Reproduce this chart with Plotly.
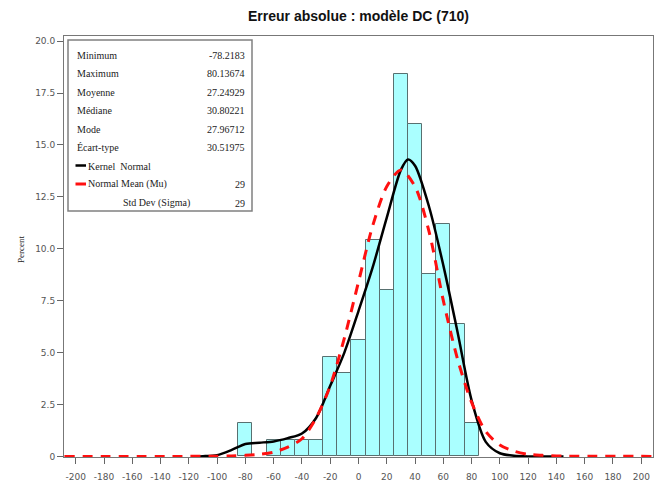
import plotly.graph_objects as go

# ---- data ----
bin_centers = [-80, -60, -50, -40, -30, -20, -10, 0, 10, 20, 30, 40, 50, 60, 70, 80]
bin_percent = [1.6, 0.8, 0.8, 0.8, 0.8, 4.8, 4.0, 5.6, 10.4, 8.0, 18.4, 16.0, 8.8, 11.2, 6.4, 1.6]
bin_width = 10

kernel_x = [-118, -110, -100, -90, -80, -70, -60, -50, -40, -30, -20, -10, 0, 10, 20, 30, 35, 40, 50, 60, 70, 80, 90, 100, 110, 120, 145]
kernel_y = [0.0, 0.01, 0.06, 0.3, 0.6, 0.66, 0.72, 0.88, 1.1, 1.85, 3.4, 5.0, 7.0, 9.1, 11.5, 13.8, 14.3, 14.0, 12.0, 9.2, 6.0, 2.7, 0.7, 0.15, 0.03, 0.0, 0.0]

normal_x = [-208, -120, -100, -90, -80, -70, -60, -50, -40, -30, -20, -10, 0, 10, 20, 30, 40, 50, 60, 70, 80, 90, 100, 110, 120, 130, 140, 208]
normal_y = [0.0, 0.0, 0.01, 0.02, 0.05, 0.1, 0.2, 0.45, 0.85, 1.85, 3.4, 5.7, 8.4, 11.1, 13.0, 13.8, 13.0, 10.8, 7.5, 4.7, 2.6, 1.2, 0.55, 0.25, 0.1, 0.05, 0.02, 0.0]

x_ticks = list(range(-200, 201, 20))
x_tick_text = [str(v) for v in x_ticks]
y_ticks = [0, 2.5, 5.0, 7.5, 10.0, 12.5, 15.0, 17.5, 20.0]
y_tick_text = ["0", "2.5", "5.0", "7.5", "10.0", "12.5", "15.0", "17.5", "20.0"]

stat_labels = ["Minimum", "Maximum", "Moyenne", "Médiane", "Mode", "Écart-type"]
stat_values = ["-78.2183", "80.13674", "27.24929", "30.80221", "27.96712", "30.51975"]
fit_labels = ["Kernel  Normal", "Normal Mean (Mu)", "Std Dev (Sigma)"]
fit_values = ["", "29", "29"]

title = "Erreur absolue : modèle DC (710)"

# ---- layout geometry ----
W, H = 664, 492
L, R, T, B = 64, 11, 36, 35
PW, PH = W - L - R, H - T - B


def px(xp):
    return (xp - L) / PW


def py(yp):
    return (H - B - yp) / PH


fig = go.Figure()

fig.add_trace(go.Bar(
    x=bin_centers, y=bin_percent, width=bin_width,
    marker=dict(color="#aaffff", line=dict(color="#587070", width=1)),
    showlegend=False, hoverinfo="x+y"))

fig.add_trace(go.Scatter(
    x=kernel_x, y=kernel_y, mode="lines", line=dict(color="black", width=2.5, shape="spline", smoothing=0.8),
    showlegend=False))

fig.add_trace(go.Scatter(
    x=normal_x, y=normal_y, mode="lines",
    line=dict(color="#ff1010", width=3, dash="10px,8px", shape="spline", smoothing=0.8),
    showlegend=False))

shapes = []
annotations = []

# inset statistics box
bx0, by0, bx1, by1 = 68, 40, 252, 211
shapes.append(dict(type="rect", xref="paper", yref="paper",
                   x0=px(bx0), x1=px(bx1), y0=py(by1), y1=py(by0),
                   line=dict(color="#808080", width=1.5), fillcolor="white", layer="above"))

row_y = [55, 73.5, 92, 110.5, 129, 147.5, 166, 184.5, 203]
txt_font = dict(family="Liberation Serif, Times New Roman, serif", size=10, color="#222222")
for i, (lab, val) in enumerate(zip(stat_labels, stat_values)):
    annotations.append(dict(xref="paper", yref="paper", x=px(75), y=py(row_y[i]), text=lab,
                            showarrow=False, xanchor="left", yanchor="middle", font=txt_font))
    annotations.append(dict(xref="paper", yref="paper", x=px(247), y=py(row_y[i]), text=val,
                            showarrow=False, xanchor="right", yanchor="middle", font=txt_font))

fit_x = [86, 86, 121]
for j, (lab, val) in enumerate(zip(fit_labels, fit_values)):
    r = row_y[6 + j]
    annotations.append(dict(xref="paper", yref="paper", x=px(fit_x[j]), y=py(r), text=lab,
                            showarrow=False, xanchor="left", yanchor="middle", font=txt_font))
    if val:
        annotations.append(dict(xref="paper", yref="paper", x=px(247), y=py(r), text=val,
                                showarrow=False, xanchor="right", yanchor="middle", font=txt_font))

shapes.append(dict(type="line", xref="paper", yref="paper", x0=px(75.5), x1=px(86), y0=py(165.5), y1=py(165.5),
                   line=dict(color="black", width=2.5), layer="above"))
shapes.append(dict(type="line", xref="paper", yref="paper", x0=px(75.5), x1=px(86), y0=py(184), y1=py(184),
                   line=dict(color="#ff1010", width=3), layer="above"))

# y axis title
annotations.append(dict(xref="paper", yref="paper", x=px(21), y=py(250), text="Percent", textangle=-90,
                        showarrow=False, xanchor="center", yanchor="middle",
                        font=dict(family="Liberation Serif, serif", size=9, color="#222222")))

tick_font = dict(family="DejaVu Sans, Tahoma, sans-serif", size=9, color="#555555")

fig.update_layout(
    width=W, height=H,
    margin=dict(l=L, r=R, t=T, b=B, pad=0),
    paper_bgcolor="white", plot_bgcolor="white",
    title=dict(text="<b>" + title + "</b>", x=0.5, xref="paper", xanchor="center", y=1 - 16 / H, yanchor="middle",
               font=dict(family="Liberation Sans, Arial, sans-serif", size=14, color="#111111")),
    xaxis=dict(range=[-208.3, 208.3], tickvals=x_ticks, ticktext=x_tick_text, ticks="outside", ticklen=6,
               tickcolor="#666666", showgrid=False, zeroline=False, showline=True, linecolor="#777777",
               linewidth=1, mirror=True, tickfont=tick_font, ticklabelstandoff=5),
    yaxis=dict(range=[-0.03, 20.25], tickvals=y_ticks, ticktext=y_tick_text, ticks="outside", ticklen=6,
               tickcolor="#666666", showgrid=False, zeroline=False, showline=True, linecolor="#777777",
               linewidth=1, mirror=True, tickfont=tick_font),
    shapes=shapes, annotations=annotations, bargap=0,
)

fig.write_html("out.html")
